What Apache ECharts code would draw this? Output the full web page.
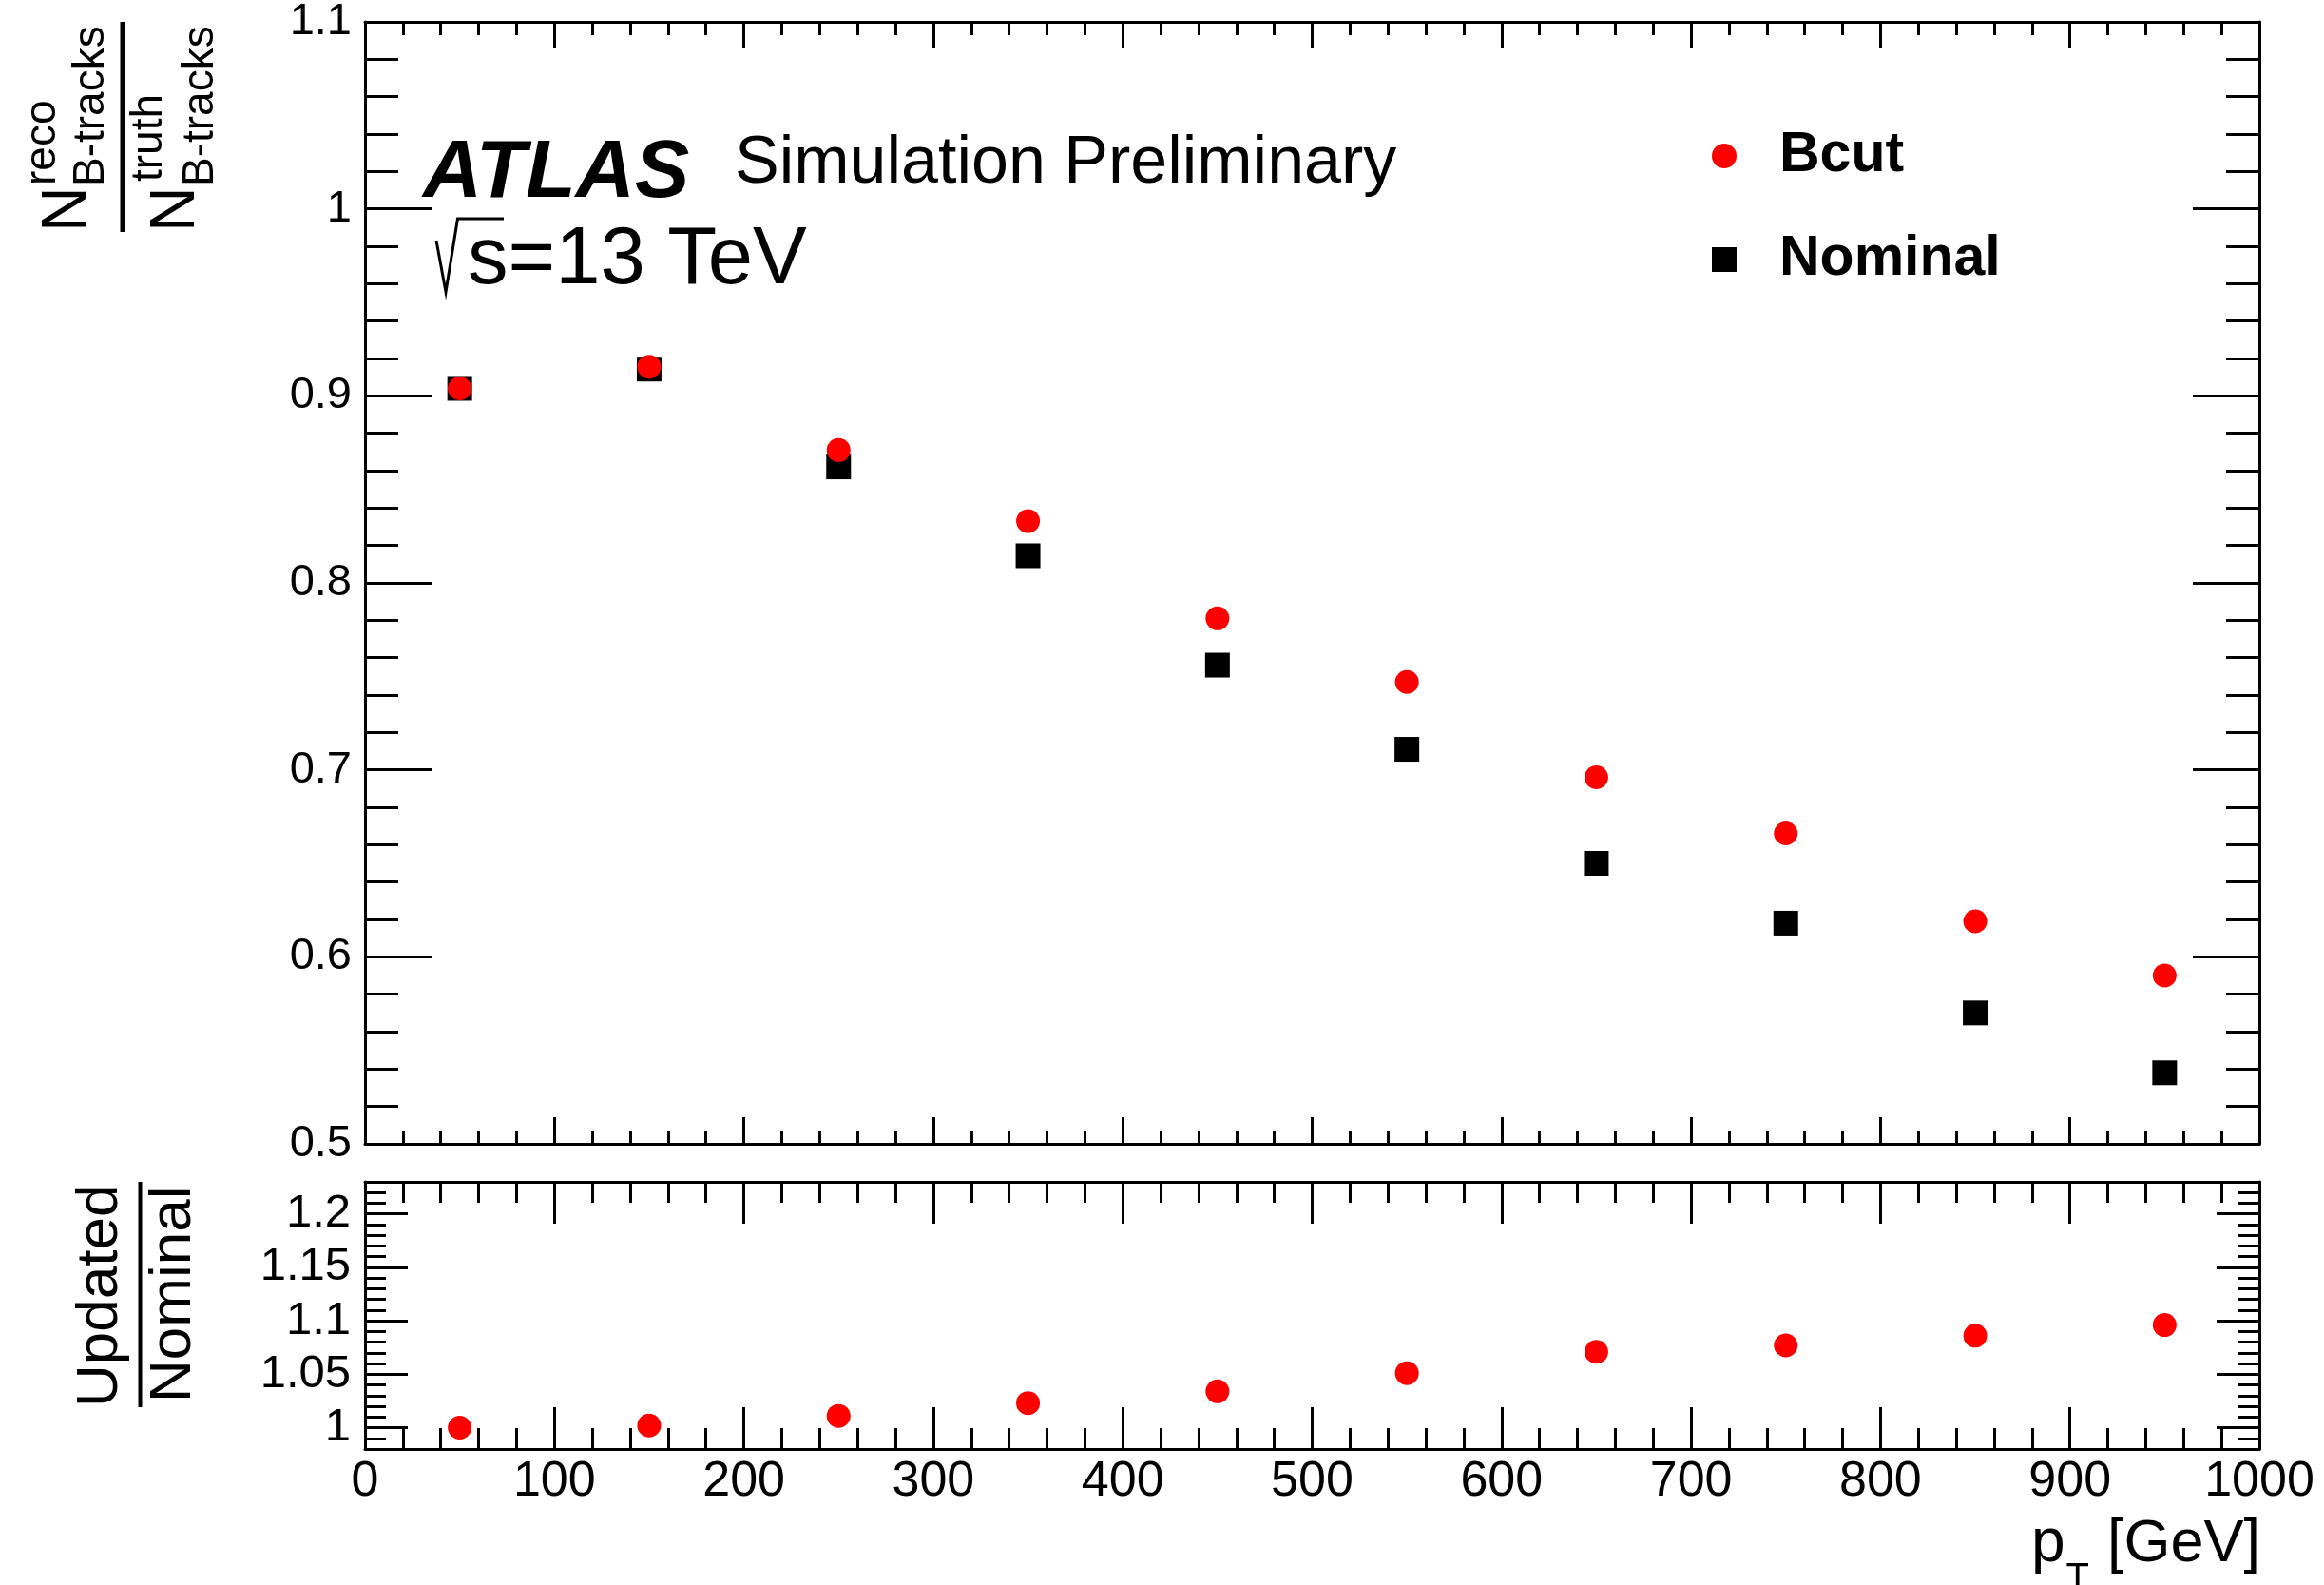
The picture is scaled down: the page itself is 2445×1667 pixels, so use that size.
<!DOCTYPE html>
<html>
<head>
<meta charset="utf-8">
<script src="https://cdn.jsdelivr.net/npm/echarts@6/dist/echarts.min.js"></script>
<style>
  html, body { margin: 0; padding: 0; background: #ffffff; }
  #chart { width: 2445px; height: 1667px; }
</style>
</head>
<body>
<div id="chart"></div>
<script>
// pT bin centres [GeV]
const ptBins = [50, 150, 250, 350, 450, 550, 650, 750, 850, 950];
// reconstructed / truth B-hadron track fraction
const bcutEff    = [0.904, 0.9156, 0.871, 0.833, 0.781, 0.747, 0.696, 0.666, 0.619, 0.590];
const nominalEff = [0.904, 0.9143, 0.862, 0.8145, 0.756, 0.711, 0.650, 0.618, 0.570, 0.538];
// Updated / Nominal
const ratioUpdNom = [1.000, 1.002, 1.011, 1.023, 1.034, 1.051, 1.071, 1.077, 1.086, 1.096];

// ratio pad tick marks
const ratioMajorTicks = [1, 1.05, 1.1, 1.15, 1.2];
const ratioMinorTicks = [0.98, 0.99, 1.00, 1.01, 1.02, 1.03, 1.04, 1.05, 1.06, 1.07, 1.08, 1.09,
                         1.10, 1.11, 1.12, 1.13, 1.14, 1.15, 1.16, 1.17, 1.18, 1.19, 1.20, 1.21,
                         1.22, 1.23];

const FONT = '"Liberation Sans", Arial, Helvetica, sans-serif';
const BLACK = '#000000';
const RED = '#ff0000';

const chart = echarts.init(document.getElementById('chart'), null, { renderer: 'canvas' });

const frameLine = { show: true, onZero: false, lineStyle: { color: BLACK, width: 3 } };
const tickStyle = { color: BLACK, width: 3 };

function xAx(grid, pos, major, minor, labels) {
  return {
    type: 'value', gridIndex: grid, position: pos, min: 0, max: 1000, interval: 100,
    axisLine: frameLine,
    axisTick: { show: true, inside: true, length: major, lineStyle: tickStyle },
    minorTick: { show: true, splitNumber: 5, length: minor, lineStyle: tickStyle },
    splitLine: { show: false },
    axisLabel: labels ? {
      show: true, margin: 9, color: BLACK, fontFamily: FONT, fontSize: 52, lineHeight: 52,
      showMinLabel: true, showMaxLabel: true,
      formatter: v => String(Math.round(v))
    } : { show: false }
  };
}

function mainYAx(pos, labels) {
  return {
    type: 'value', gridIndex: 0, position: pos, min: 0.5, max: 1.1, interval: 0.1,
    axisLine: frameLine,
    axisTick: { show: true, inside: true, length: 70, lineStyle: tickStyle },
    minorTick: { show: true, splitNumber: 5, length: 35, lineStyle: tickStyle },
    splitLine: { show: false },
    axisLabel: labels ? {
      show: true, margin: 14, color: BLACK, fontFamily: FONT, fontSize: 47,
      padding: [6, 0, 0, 0],
      showMinLabel: true, showMaxLabel: true,
      formatter: v => String(Math.round(v * 10) / 10)
    } : { show: false }
  };
}

// major axis carries the frame line and the labels; minor axis only adds short ticks
function ratioYAx(pos, ticks, len, major, labels) {
  return {
    type: 'value', gridIndex: 1, position: pos, min: 0.98, max: 1.23,
    axisLine: major ? frameLine : { show: false, onZero: false },
    axisTick: { show: true, inside: true, length: len, lineStyle: tickStyle, customValues: ticks },
    minorTick: { show: false },
    splitLine: { show: false },
    axisLabel: labels ? {
      show: true, inside: false, margin: 15, color: BLACK, fontFamily: FONT, fontSize: 49,
      customValues: ratioMajorTicks,
      formatter: v => String(Math.round(v * 100) / 100)
    } : { show: false }
  };
}

function rotText(txt, x, y, size) {
  return {
    type: 'text', x: x, y: y, rotation: Math.PI / 2,
    style: { text: txt, fontFamily: FONT, fontSize: size, fill: BLACK, align: 'left', verticalAlign: 'middle' }
  };
}

function flatText(txt, x, y, size, extra) {
  return {
    type: 'text', x: x, y: y,
    style: Object.assign({ text: txt, fontFamily: FONT, fontSize: size, fill: BLACK, align: 'left', verticalAlign: 'middle' }, extra || {})
  };
}

const option = {
  animation: false,
  backgroundColor: '#ffffff',
  textStyle: { fontFamily: FONT, color: BLACK },
  grid: [
    { left: 384, right: 68, top: 23, height: 1180, containLabel: false, outerBoundsMode: 'none' },
    { left: 384, right: 68, top: 1243, height: 281, containLabel: false, outerBoundsMode: 'none' }
  ],
  xAxis: [
    xAx(0, 'bottom', 28, 14, false),
    xAx(0, 'top', 28, 14, false),
    xAx(1, 'bottom', 44, 22, true),
    xAx(1, 'top', 44, 22, false)
  ],
  yAxis: [
    mainYAx('left', true),
    mainYAx('right', false),
    ratioYAx('left', ratioMajorTicks, 45, true, true),
    ratioYAx('left', ratioMinorTicks, 22, false, false),
    ratioYAx('right', ratioMajorTicks, 45, true, false),
    ratioYAx('right', ratioMinorTicks, 22, false, false)
  ],
  legend: {
    orient: 'vertical', left: 1796, top: 129, itemGap: 49,
    itemWidth: 26, itemHeight: 26,
    data: ['Bcut', 'Nominal'],
    textStyle: { fontFamily: FONT, fontSize: 59, fontWeight: 'bold', color: BLACK, lineHeight: 60, padding: [0, 0, 0, 40] }
  },
  series: [
    {
      name: 'Nominal', type: 'scatter', xAxisIndex: 0, yAxisIndex: 0,
      symbol: 'rect', symbolSize: 26, itemStyle: { color: BLACK, opacity: 1 },
      data: ptBins.map((x, i) => [x, nominalEff[i]])
    },
    {
      name: 'Bcut', type: 'scatter', xAxisIndex: 0, yAxisIndex: 0,
      symbol: 'circle', symbolSize: 25, itemStyle: { color: RED, opacity: 1 },
      data: ptBins.map((x, i) => [x, bcutEff[i]])
    },
    {
      name: 'Updated/Nominal', type: 'scatter', xAxisIndex: 2, yAxisIndex: 2,
      symbol: 'circle', symbolSize: 25, itemStyle: { color: RED, opacity: 1 },
      data: ptBins.map((x, i) => [x, ratioUpdNom[i]])
    }
  ],
  graphic: [
    // experiment label
    flatText('ATLAS', 445, 183, 86, { fontWeight: 'bold', fontStyle: 'italic' }),
    flatText('Simulation Preliminary', 773, 173, 70),
    { type: 'polyline', shape: { points: [[459, 253], [469, 307], [481.5, 230], [530, 230]] },
      style: { stroke: BLACK, lineWidth: 3, fill: null } },
    flatText('s=13 TeV', 492, 274.5, 85),

    // main y title: N^reco_B-tracks / N^truth_B-tracks
    rotText('N', 71.5, 244, 66),
    rotText('reco', 45.5, 195, 46),
    rotText('B-tracks', 96.5, 196, 46),
    { type: 'line', shape: { x1: 129, y1: 23, x2: 129, y2: 244 }, style: { stroke: BLACK, lineWidth: 5 } },
    rotText('N', 186, 244, 66),
    rotText('truth', 157, 191, 46),
    rotText('B-tracks', 211, 196, 46),

    // ratio y title
    rotText('Updated', 105.5, 1480, 62),
    { type: 'line', shape: { x1: 147.5, y1: 1243, x2: 147.5, y2: 1480 }, style: { stroke: BLACK, lineWidth: 4 } },
    rotText('Nominal', 183, 1475, 62),

    // x title: p_T [GeV]
    flatText('p', 2137, 1624.5, 64),
    flatText('T', 2173.5, 1661, 40),
    flatText('[GeV]', 2378, 1624.5, 63, { align: 'right' })
  ]
};

chart.setOption(option);
</script>
</body>
</html>
